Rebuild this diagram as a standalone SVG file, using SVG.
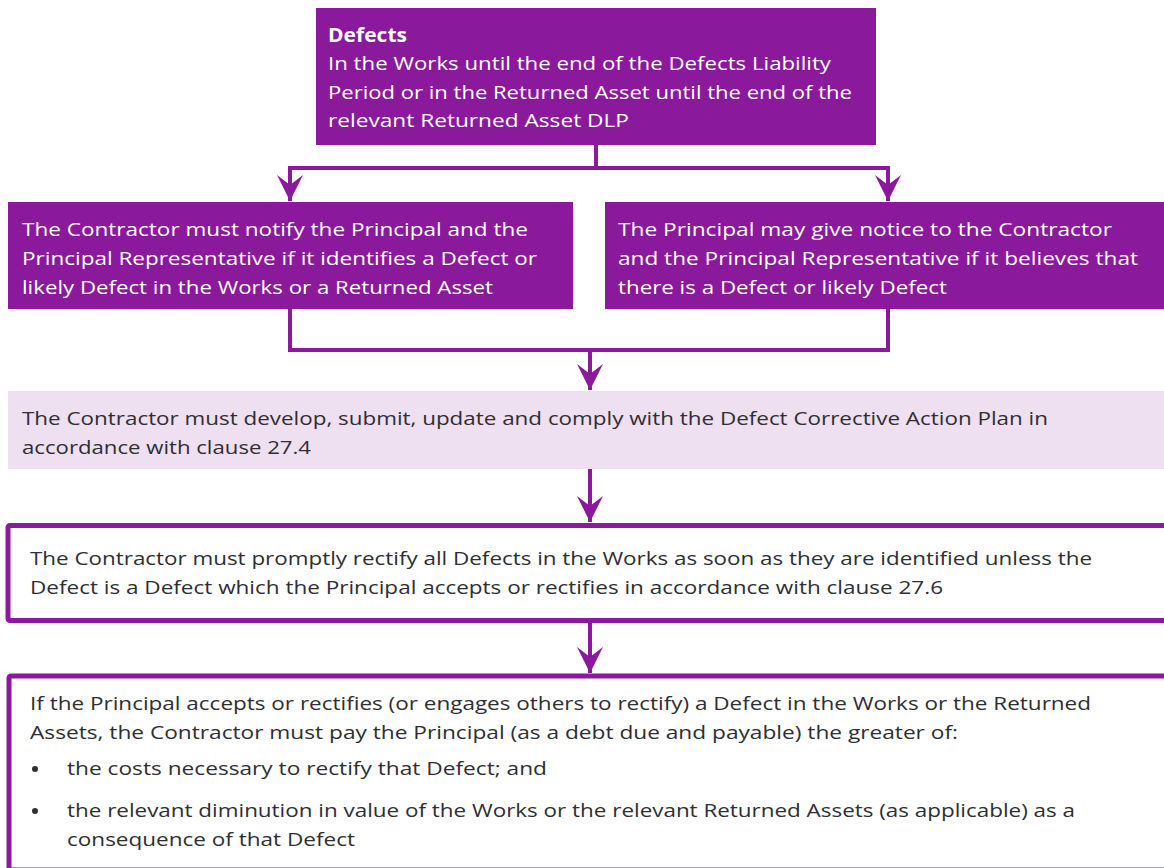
<svg xmlns="http://www.w3.org/2000/svg" width="1164" height="868" viewBox="0 0 1164 868">
  <style>
    .pbox { fill: #8A199B; }
    .lbox { fill: #EEDFF1; }
    .obox { fill: #FFFFFF; stroke: #8A199B; stroke-width: 5; }
    .wt { font-family: "Open Sans", "Liberation Sans", sans-serif; font-size: 19px; fill: #FFFFFF; }
    .dt { font-family: "Open Sans", "Liberation Sans", sans-serif; font-size: 19px; fill: #2E2E33; }
    .b { font-weight: bold; }
    .conn { fill: none; stroke: #8A199B; stroke-width: 4; }
    .bullet { fill: #2E2E33; }
  </style>
  <defs>
    <marker id="arrow" markerUnits="userSpaceOnUse" markerWidth="28" markerHeight="28" viewBox="0 0 28 28" refX="26" refY="14" orient="auto">
      <path d="M0,1 L26,14 L0,27 L10,14 Z" fill="#8A199B"/>
    </marker>
  </defs>

  <rect width="1164" height="868" fill="#FFFFFF"/>

  <g id="connectors">
    <path class="conn" d="M596,145 V168"/>
    <path class="conn" d="M290,168 H888"/>
    <path class="conn" d="M290,166 V201" marker-end="url(#arrow)"/>
    <path class="conn" d="M888,166 V201" marker-end="url(#arrow)"/>
    <path class="conn" d="M290,308 V350 H888 V308"/>
    <path class="conn" d="M590,350 V390" marker-end="url(#arrow)"/>
    <path class="conn" d="M590,469 V522" marker-end="url(#arrow)"/>
    <path class="conn" d="M590,623 V673" marker-end="url(#arrow)"/>
  </g>

  <g id="node-defects">
    <rect class="pbox" x="316" y="8" width="560" height="137"/>
    <text class="wt b" x="328" y="42" textLength="79" lengthAdjust="spacingAndGlyphs">Defects</text>
    <text class="wt" x="328" y="70" textLength="503" lengthAdjust="spacingAndGlyphs">In the Works until the end of the Defects Liability</text>
    <text class="wt" x="328" y="99" textLength="524" lengthAdjust="spacingAndGlyphs">Period or in the Returned Asset until the end of the</text>
    <text class="wt" x="328" y="127" textLength="301" lengthAdjust="spacingAndGlyphs">relevant Returned Asset DLP</text>
  </g>

  <g id="node-contractor-notify">
    <rect class="pbox" x="8" y="202" width="565" height="107"/>
    <text class="wt" x="22" y="236" textLength="506" lengthAdjust="spacingAndGlyphs">The Contractor must notify the Principal and the</text>
    <text class="wt" x="22" y="265" textLength="515" lengthAdjust="spacingAndGlyphs">Principal Representative if it identifies a Defect or</text>
    <text class="wt" x="22" y="294" textLength="471" lengthAdjust="spacingAndGlyphs">likely Defect in the Works or a Returned Asset</text>
  </g>

  <g id="node-principal-notice">
    <rect class="pbox" x="605" y="202" width="559" height="107"/>
    <text class="wt" x="618" y="236" textLength="494" lengthAdjust="spacingAndGlyphs">The Principal may give notice to the Contractor</text>
    <text class="wt" x="618" y="265" textLength="520" lengthAdjust="spacingAndGlyphs">and the Principal Representative if it believes that</text>
    <text class="wt" x="618" y="294" textLength="329" lengthAdjust="spacingAndGlyphs">there is a Defect or likely Defect</text>
  </g>

  <g id="node-corrective-plan">
    <rect class="lbox" x="8" y="391" width="1156" height="78"/>
    <text class="dt" x="22" y="425" textLength="1026" lengthAdjust="spacingAndGlyphs">The Contractor must develop, submit, update and comply with the Defect Corrective Action Plan in</text>
    <text class="dt" x="22" y="454" textLength="289" lengthAdjust="spacingAndGlyphs">accordance with clause 27.4</text>
  </g>

  <g id="node-rectify">
    <rect class="obox" x="8" y="525.5" width="1170" height="95" rx="2"/>
    <text class="dt" x="30" y="565" textLength="1062" lengthAdjust="spacingAndGlyphs">The Contractor must promptly rectify all Defects in the Works as soon as they are identified unless the</text>
    <text class="dt" x="30" y="594" textLength="913" lengthAdjust="spacingAndGlyphs">Defect is a Defect which the Principal accepts or rectifies in accordance with clause 27.6</text>
  </g>

  <g id="node-pay">
    <rect class="obox" x="9" y="676" width="1170" height="194" rx="2"/>
    <text class="dt" x="30" y="710" textLength="1061" lengthAdjust="spacingAndGlyphs">If the Principal accepts or rectifies (or engages others to rectify) a Defect in the Works or the Returned</text>
    <text class="dt" x="30" y="739" textLength="928" lengthAdjust="spacingAndGlyphs">Assets, the Contractor must pay the Principal (as a debt due and payable) the greater of:</text>
    <circle class="bullet" cx="35" cy="769" r="3"/>
    <text class="dt" x="67" y="775" textLength="480" lengthAdjust="spacingAndGlyphs">the costs necessary to rectify that Defect; and</text>
    <circle class="bullet" cx="35" cy="811" r="3"/>
    <text class="dt" x="67" y="817" textLength="1008" lengthAdjust="spacingAndGlyphs">the relevant diminution in value of the Works or the relevant Returned Assets (as applicable) as a</text>
    <text class="dt" x="67" y="846" textLength="288" lengthAdjust="spacingAndGlyphs">consequence of that Defect</text>
  </g>
</svg>
